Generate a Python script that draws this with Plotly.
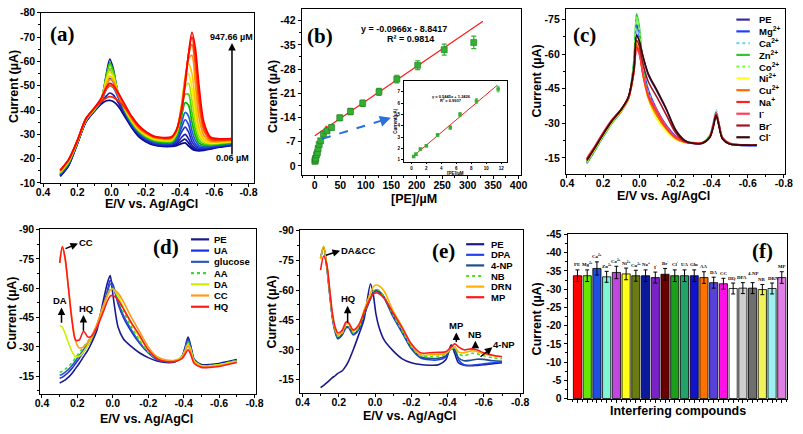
import plotly.graph_objects as go

W, H = 803, 434
SANS = "Liberation Sans, Arial, sans-serif"
SERIF = "Liberation Serif, Times New Roman, serif"

# ======================= DATA =======================
# ---- (a) DPV curves at increasing PE concentration (0.06 -> 947.66 uM)
E_a = [0.30, 0.25, 0.20, 0.15, 0.10, 0.06, 0.03, 0.01, -0.01, -0.04, -0.08, -0.12, -0.16, -0.20,
       -0.25, -0.30, -0.35, -0.38, -0.41, -0.43, -0.45, -0.47, -0.49, -0.51, -0.54, -0.58, -0.63, -0.70]
a_c01 = [-12.7, -17.2, -26.0, -35.0, -39.5, -42.5, -43.8, -44.0, -43.5, -41.5, -37.0, -32.5, -29.0, -27.0, -25.5, -25.0, -25.0, -25.3, -26.2, -26.5, -25.2, -24.0, -23.4, -23.2, -23.4, -24.0, -24.7, -25.4]
a_c02 = [-12.9, -17.4, -26.2, -35.2, -39.6, -44.0, -55.0, -61.0, -57.0, -46.0, -38.0, -33.0, -29.5, -27.3, -25.8, -25.3, -25.3, -25.8, -27.3, -28.0, -26.5, -24.5, -23.7, -23.5, -23.7, -24.2, -24.9, -25.6]
a_c03 = [-13.1, -17.6, -26.3, -35.3, -39.7, -43.0, -45.8, -47.0, -46.2, -43.0, -38.0, -33.3, -29.8, -27.6, -26.0, -25.5, -25.6, -26.3, -28.8, -30.0, -28.2, -25.5, -24.2, -23.8, -23.9, -24.4, -25.0, -25.7]
a_c04 = [-13.3, -17.8, -26.4, -35.4, -39.8, -43.8, -52.5, -57.0, -54.0, -45.5, -38.5, -33.5, -30.0, -27.9, -26.3, -25.8, -25.9, -27.0, -31.0, -33.0, -31.0, -27.0, -25.0, -24.3, -24.3, -24.7, -25.2, -25.9]
a_c05 = [-13.5, -18.0, -26.5, -35.5, -39.9, -43.8, -50.0, -53.0, -51.5, -45.5, -39.0, -34.0, -30.4, -28.2, -26.6, -26.1, -26.2, -27.8, -33.0, -36.0, -34.0, -29.0, -26.0, -24.8, -24.6, -24.9, -25.4, -26.0]
a_c06 = [-13.7, -18.2, -26.6, -35.6, -40.0, -43.5, -48.5, -50.0, -49.2, -45.0, -39.0, -34.3, -30.7, -28.5, -26.9, -26.4, -26.5, -28.5, -35.0, -39.0, -37.5, -31.5, -27.5, -25.5, -25.0, -25.2, -25.6, -26.2]
a_c07 = [-13.9, -18.4, -26.7, -35.7, -40.1, -44.2, -54.0, -59.5, -56.0, -46.5, -39.5, -34.6, -31.0, -28.8, -27.2, -26.7, -26.8, -29.3, -37.5, -43.0, -42.0, -35.0, -29.5, -26.5, -25.5, -25.5, -25.9, -26.4]
a_c08 = [-14.1, -18.6, -26.8, -35.8, -40.2, -44.3, -53.8, -59.0, -55.7, -46.5, -39.8, -34.9, -31.3, -29.1, -27.5, -27.0, -27.1, -30.0, -39.5, -46.5, -46.5, -39.0, -32.0, -27.8, -26.0, -25.8, -26.2, -26.7]
a_c09 = [-14.3, -18.8, -26.9, -35.9, -40.3, -44.4, -53.0, -57.0, -54.5, -46.5, -40.0, -35.2, -31.6, -29.4, -27.8, -27.3, -27.4, -30.5, -41.0, -49.5, -51.0, -44.0, -35.0, -29.5, -26.7, -26.1, -26.4, -26.9]
a_c10 = [-14.5, -19.0, -27.0, -36.0, -40.4, -44.5, -52.2, -55.5, -53.5, -46.5, -40.3, -35.5, -31.9, -29.7, -28.1, -27.6, -27.7, -31.0, -42.0, -52.0, -55.0, -49.0, -38.5, -31.0, -27.3, -26.4, -26.6, -27.1]
a_c11 = [-14.7, -19.2, -27.1, -36.1, -40.5, -44.6, -51.3, -54.0, -52.6, -46.5, -40.6, -35.8, -32.2, -30.0, -28.4, -27.9, -28.0, -31.3, -42.5, -53.5, -59.0, -55.0, -43.0, -33.0, -28.0, -26.8, -26.9, -27.3]
a_c12 = [-14.9, -19.4, -27.2, -36.2, -40.6, -44.6, -50.2, -52.5, -51.8, -46.4, -40.9, -36.1, -32.5, -30.3, -28.6, -28.1, -28.3, -31.5, -42.0, -53.0, -61.0, -62.5, -51.0, -37.5, -29.5, -27.2, -27.2, -27.5]
a_c13 = [-15.0, -19.5, -27.3, -36.3, -40.7, -44.4, -48.7, -50.0, -49.6, -46.0, -41.2, -36.4, -32.8, -30.6, -28.8, -28.3, -28.5, -31.6, -41.0, -51.5, -62.5, -67.0, -58.0, -43.0, -31.5, -27.7, -27.5, -27.7]
a_c14 = [-15.1, -19.6, -27.4, -36.4, -40.8, -43.5, -45.0, -45.5, -45.2, -43.8, -40.8, -36.8, -33.2, -30.9, -29.0, -28.5, -28.7, -31.8, -40.5, -51.0, -63.0, -70.0, -62.0, -47.0, -33.0, -28.2, -27.8, -27.9]
a_c15 = [-15.3, -19.8, -27.5, -36.5, -40.9, -45.0, -49.3, -51.0, -50.2, -47.0, -42.0, -37.2, -33.6, -31.2, -29.2, -28.7, -29.0, -32.0, -40.0, -50.5, -63.0, -72.0, -65.5, -51.0, -35.0, -28.8, -28.2, -28.3]

# ---- (b) calibration
b_conc = [0.3, 0.6, 1.2, 2.0, 3.5, 5.2, 6.5, 8.7, 11.6, 17, 24, 33, 49, 70, 94, 126, 161, 202, 254, 312]
b_curr = [-1.3, -1.5, -1.95, -2.25, -3.2, -3.85, -5.0, -6.2, -7.25, -9.2, -10.1, -11.1, -13.9, -15.7,
          -18.1, -21.4, -25.1, -29.1, -33.6, -35.7]
b_err = [0.3, 0.3, 0.3, 0.3, 0.4, 0.4, 0.5, 0.5, 0.6, 0.6, 0.7, 0.7, 0.8, 0.9, 0.9, 1.0, 1.1, 1.3, 1.6, 1.8]
b_fit_high_x = [0, 330]
b_fit_high_y = [-8.7, -41.8]
b_fit_low_x = [0.3, 23]
b_fit_low_y = [-1.0, -11.6]
b_arrow_x = [14.3, 149.3]
b_arrow_y = [-7.8, -13.9]
inset_conc = [0.3, 0.6, 1.2, 2.0, 3.5, 5.2, 6.5, 8.7, 11.6]
inset_curr = [1.3, 1.5, 1.95, 2.25, 3.2, 3.85, 5.0, 6.2, 7.25]
inset_err = [0.08, 0.1, 0.1, 0.1, 0.12, 0.15, 0.18, 0.2, 0.25]
inset_fit_x = [0.1, 11.5]
inset_fit_y = [1.25, 7.6]

# ---- (c) metal ions / anions
E_c = [0.29, 0.25, 0.20, 0.15, 0.10, 0.06, 0.03, 0.015, 0.0, -0.02, -0.05, -0.10, -0.15, -0.20,
       -0.25, -0.30, -0.35, -0.39, -0.41, -0.425, -0.44, -0.46, -0.50, -0.55, -0.60, -0.65]
c_PE = [-13.0, -18.0, -24.5, -30.5, -35.5, -41.0, -53.0, -68.5, -66.0, -59.0, -51.0, -43.5, -35.8, -27.0, -22.5, -21.2, -21.3, -24.0, -29.0, -34.0, -29.5, -23.5, -21.0, -20.5, -20.4, -20.4]
c_Mg = [-12.6, -17.6, -24.2, -30.2, -35.2, -41.0, -56.0, -73.0, -68.0, -55.0, -44.5, -35.5, -29.0, -24.5, -22.0, -21.3, -21.4, -24.5, -30.0, -35.0, -30.0, -23.5, -21.0, -20.5, -20.3, -20.3]
c_Ca = [-12.5, -17.5, -24.0, -30.0, -35.0, -40.8, -55.0, -71.0, -67.0, -54.0, -43.5, -35.0, -28.5, -24.0, -22.0, -21.4, -21.5, -25.0, -30.8, -35.8, -30.5, -24.0, -21.2, -20.6, -20.4, -20.4]
c_Zn = [-13.0, -17.8, -24.3, -30.2, -35.0, -40.5, -57.0, -77.5, -72.0, -55.0, -42.0, -33.0, -27.5, -23.5, -22.0, -21.6, -21.7, -24.5, -29.5, -34.5, -30.0, -23.8, -21.2, -20.6, -20.5, -20.5]
c_Co = [-13.3, -18.0, -24.5, -30.4, -35.2, -40.6, -56.5, -76.0, -71.0, -54.0, -41.5, -32.8, -27.3, -23.3, -21.8, -21.5, -21.6, -24.3, -29.3, -34.2, -29.8, -23.6, -21.1, -20.6, -20.5, -20.5]
c_Ni = [-13.6, -18.3, -24.8, -30.7, -35.4, -40.5, -52.5, -65.0, -62.0, -51.0, -40.5, -31.5, -26.5, -23.0, -21.6, -21.4, -21.6, -24.0, -29.0, -33.5, -29.5, -23.5, -21.0, -20.6, -20.5, -20.5]
c_Cu = [-14.0, -18.7, -25.2, -31.0, -35.6, -40.6, -52.3, -64.0, -61.0, -51.0, -41.0, -33.0, -27.5, -23.5, -21.8, -21.4, -21.5, -24.0, -29.0, -33.8, -29.5, -23.5, -21.0, -20.6, -20.5, -20.5]
c_Na = [-14.5, -19.2, -25.6, -31.4, -35.9, -40.8, -52.0, -63.0, -60.5, -51.5, -42.0, -34.5, -28.0, -24.0, -22.0, -21.4, -21.5, -24.2, -29.5, -34.0, -29.8, -23.6, -21.2, -20.7, -20.6, -20.6]
c_I = [-15.0, -19.6, -26.0, -31.7, -36.2, -41.0, -52.0, -62.0, -60.0, -51.5, -42.5, -35.3, -28.5, -24.2, -22.0, -21.4, -21.5, -24.2, -29.5, -34.5, -30.0, -23.8, -21.3, -20.8, -20.7, -20.7]
c_Br = [-14.3, -19.0, -25.5, -31.3, -36.0, -41.5, -53.5, -66.0, -63.5, -56.0, -48.0, -41.0, -33.5, -26.0, -22.2, -21.2, -21.3, -24.0, -29.0, -33.8, -29.3, -23.4, -21.0, -20.6, -20.5, -20.5]
c_Cl = [-13.8, -18.8, -25.2, -31.2, -36.0, -41.5, -53.5, -68.0, -65.8, -59.2, -51.5, -44.0, -36.2, -27.3, -22.7, -21.3, -21.4, -23.8, -28.5, -33.5, -29.0, -23.2, -21.0, -20.6, -20.5, -20.5]
c_labels = ["PE", "Mg<sup>2+</sup>", "Ca<sup>2+</sup>", "Zn<sup>2+</sup>", "Co<sup>2+</sup>", "Ni<sup>2+</sup>",
            "Cu<sup>2+</sup>", "Na<sup>+</sup>", "I<sup>-</sup>", "Br<sup>-</sup>", "Cl<sup>-</sup>"]

# ---- (d) biomolecules
E_d = [0.30, 0.285, 0.27, 0.25, 0.23, 0.21, 0.19, 0.165, 0.14, 0.12, 0.09, 0.06, 0.03, 0.015, 0.0, -0.03, -0.06,
       -0.10, -0.15, -0.20, -0.25, -0.30, -0.35, -0.39, -0.41, -0.425, -0.44, -0.46, -0.50, -0.55, -0.60, -0.65, -0.70]
d_PE = [-11.5, -12.2, -13.0, -14.5, -16.5, -19.0, -21.5, -25.0, -28.5, -32.0, -38.5, -51.0, -63.0, -66.5, -57.0, -40.0, -34.0, -30.5, -27.0, -24.5, -22.8, -22.0, -22.3, -25.0, -30.5, -35.0, -30.5, -23.5, -21.0, -21.0, -21.5, -22.5, -23.5]
d_UA = [-14.0, -14.5, -15.5, -17.0, -19.0, -21.5, -24.0, -27.5, -31.0, -34.0, -40.0, -49.0, -59.0, -64.0, -62.0, -52.0, -45.0, -38.5, -32.0, -27.0, -23.5, -22.5, -22.5, -25.0, -30.0, -34.0, -30.0, -23.3, -20.5, -20.5, -21.0, -22.0, -23.0]
d_glucose = [-15.5, -16.0, -17.0, -18.5, -20.5, -23.0, -25.5, -28.5, -32.0, -35.0, -41.0, -49.5, -58.0, -62.0, -61.0, -53.0, -46.0, -39.5, -32.5, -27.0, -23.5, -22.5, -22.5, -24.8, -29.5, -33.5, -29.5, -23.0, -20.3, -20.3, -20.8, -21.8, -22.8]
d_AA = [-17.0, -17.5, -18.5, -20.0, -22.0, -24.5, -27.0, -30.0, -33.0, -35.5, -41.0, -49.0, -56.5, -59.5, -60.0, -55.0, -48.0, -41.0, -33.5, -27.5, -24.0, -23.0, -23.0, -25.0, -29.0, -32.5, -29.0, -23.0, -20.5, -20.5, -21.0, -22.0, -23.0]
d_DA = [-41.0, -40.0, -37.0, -32.0, -27.5, -25.0, -25.2, -27.5, -31.0, -34.5, -40.5, -48.5, -56.5, -59.0, -59.5, -56.0, -50.0, -43.0, -35.0, -28.5, -24.5, -23.2, -23.2, -25.0, -28.5, -31.5, -28.5, -22.8, -20.3, -20.3, -20.8, -21.8, -22.8]
d_CC = [-73.0, -81.0, -75.0, -60.0, -44.0, -33.0, -29.5, -30.0, -32.5, -35.5, -41.5, -49.5, -56.5, -59.0, -59.5, -57.5, -53.0, -46.0, -38.0, -30.0, -25.0, -23.3, -23.0, -24.5, -28.0, -30.5, -27.5, -22.0, -19.8, -19.8, -20.3, -21.3, -22.3]
d_HQ = [-73.0, -81.3, -76.0, -59.5, -43.0, -33.5, -33.5, -38.0, -35.0, -35.5, -40.0, -46.5, -53.5, -56.0, -56.3, -54.0, -49.5, -43.0, -36.0, -28.5, -24.0, -22.5, -22.5, -24.0, -26.5, -28.5, -26.0, -21.5, -19.5, -19.5, -20.0, -21.0, -22.0]
d_labels = ["PE", "UA", "glucose", "AA", "DA", "CC", "HQ"]

# ---- (e) phenolic / nitro compounds
E_e = [0.30, 0.283, 0.265, 0.25, 0.235, 0.22, 0.205, 0.18, 0.16, 0.145, 0.12, 0.09, 0.06, 0.025, 0.01, -0.005,
       -0.02, -0.05, -0.10, -0.15, -0.20, -0.25, -0.30, -0.35, -0.39, -0.42, -0.44, -0.46, -0.49, -0.53, -0.56,
       -0.60, -0.65, -0.70]
e_PE = [-11.0, -12.2, -13.5, -14.8, -16.0, -17.0, -18.2, -19.5, -22.0, -24.5, -30.0, -37.5, -45.5, -63.0, -58.0, -48.0, -42.0, -35.0, -29.5, -25.5, -23.5, -22.6, -22.3, -22.5, -25.0, -32.5, -28.0, -23.5, -22.3, -22.0, -22.2, -22.5, -23.0, -23.5]
e_DPA = [-76.0, -81.5, -71.0, -58.0, -46.0, -39.0, -35.5, -37.5, -41.0, -41.0, -37.5, -40.0, -47.5, -55.5, -58.5, -59.5, -59.0, -56.0, -46.5, -38.5, -30.5, -26.0, -25.0, -25.0, -26.5, -31.0, -30.0, -25.0, -22.5, -22.3, -22.5, -23.0, -23.5, -24.0]
e_4NP = [-76.0, -81.5, -71.0, -58.5, -46.5, -39.5, -36.0, -38.0, -41.5, -41.5, -38.0, -40.5, -48.0, -56.0, -59.0, -60.0, -59.5, -56.5, -47.0, -39.0, -31.0, -26.5, -25.7, -25.8, -27.0, -30.5, -30.0, -26.0, -24.5, -24.8, -25.3, -25.2, -24.5, -24.3]
e_NB = [-76.0, -81.8, -71.5, -59.0, -47.0, -40.0, -36.8, -38.5, -42.0, -42.0, -38.5, -41.0, -48.5, -56.5, -59.5, -60.5, -60.0, -57.0, -47.5, -39.5, -31.5, -27.0, -26.6, -26.8, -27.8, -30.5, -31.0, -28.0, -27.0, -28.3, -28.0, -27.0, -26.0, -25.5]
e_DRN = [-75.5, -82.0, -72.0, -59.5, -47.5, -40.5, -37.5, -39.0, -43.0, -43.0, -39.5, -42.0, -50.0, -58.5, -61.5, -62.5, -62.3, -59.5, -49.5, -41.5, -32.5, -27.5, -27.5, -27.6, -28.3, -30.8, -31.5, -29.0, -28.5, -29.5, -29.2, -28.0, -27.0, -26.5]
e_MP = [-70.0, -77.0, -72.5, -60.5, -48.5, -41.5, -38.5, -40.0, -44.0, -43.5, -40.0, -42.5, -49.0, -56.0, -58.0, -58.6, -58.3, -56.0, -48.5, -41.0, -33.0, -28.5, -28.5, -28.7, -29.0, -31.5, -33.0, -31.5, -30.0, -30.5, -30.0, -28.5, -27.3, -26.5]
e_labels = ["PE", "DPA", "4-NP", "NB", "DRN", "MP"]

# ---- (f) interference bar chart
f_labels = ["PE", "Mg<sup>2+</sup>", "Ca<sup>2+</sup>", "Zn<sup>2+</sup>", "Co<sup>2+</sup>", "Ni<sup>2+</sup>",
            "Cu<sup>2+</sup>", "Na<sup>+</sup>", "I<sup>-</sup>", "Br<sup>-</sup>", "Cl<sup>-</sup>", "UA", "Glu",
            "AA", "DA", "CC", "HQ", "DPA", "4-NP", "NB", "DRN", "MP"]
f_vals = [-33.7, -33.7, -35.7, -33.4, -34.6, -34.2, -33.7, -33.7, -33.2, -34.1, -33.7, -33.7, -33.7, -33.2,
          -31.8, -31.5, -30.2, -30.3, -30.3, -29.9, -30.2, -33.2]
f_err = [1.6, 1.6, 1.8, 1.5, 1.7, 1.6, 1.5, 1.6, 1.5, 1.6, 1.6, 1.6, 1.6, 1.6, 1.5, 1.5, 1.5, 1.5, 1.5, 1.4, 1.5, 1.6]

# tick labels
pot_ticks = [0.4, 0.2, 0.0, -0.2, -0.4, -0.6, -0.8]
pot_text = ["0.4", "0.2", "0.0", "-0.2", "-0.4", "-0.6", "-0.8"]
a_yticks = [-80, -70, -60, -50, -40, -30, -20, -10]
b_yticks = [0, -7, -14, -21, -28, -35, -42]
b_xticks = [0, 50, 100, 150, 200, 250, 300, 350, 400]
c_yticks = [-15, -30, -45, -60, -75]
de_yticks = [-15, -30, -45, -60, -75, -90]
f_yticks = [0, -5, -10, -15, -20, -25, -30, -35, -40, -45]
inset_xticks = [0, 2, 4, 6, 8, 10, 12]
inset_yticks = [1, 2, 3, 4, 5, 6, 7]

# ======================= STYLES =======================
a_curves = [a_c01, a_c02, a_c03, a_c04, a_c05, a_c06, a_c07, a_c08, a_c09, a_c10, a_c11, a_c12, a_c13, a_c14, a_c15]
a_colors = ['#0a0a80', '#1010a0', '#1a1ab4', '#1e30c8', '#2040d8', '#2a5ae0', '#00b400', '#44d400', '#aee000',
            '#f2ee00', '#ffc400', '#ff9000', '#ff5a00', '#ff2800', '#ff0000']
c_curves = [c_PE, c_Mg, c_Ca, c_Zn, c_Co, c_Ni, c_Cu, c_Na, c_I, c_Br, c_Cl]
c_colors = ['#3a2c9a', '#1f3fff', '#7fd3e6', '#2ec82e', '#7cff3c', '#ffff1a', '#ff6a00', '#ff2020', '#ff3c5a',
            '#a0141e', '#3a0808']
c_dash = ['solid', 'solid', 'dot', 'solid', 'dot', 'solid', 'solid', 'solid', 'solid', 'solid', 'solid']
d_curves = [d_PE, d_UA, d_glucose, d_AA, d_DA, d_CC, d_HQ]
d_colors = ['#1a1a8c', '#1c2ee0', '#3355bb', '#33dd33', '#ccf000', '#ff9a1a', '#ff1a1a']
d_dash = ['solid', 'solid', 'solid', 'dot', 'solid', 'solid', 'solid']
e_curves = [e_PE, e_DPA, e_4NP, e_NB, e_DRN, e_MP]
e_colors = ['#1a1a8c', '#2244ee', '#1f4f8f', '#55dd22', '#ffb000', '#ff1a1a']
e_dash = ['solid', 'solid', 'solid', 'dot', 'solid', 'solid']
f_colors = ['#ff0000', '#66e600', '#1e4fe0', '#7ff5d6', '#c048e0', '#ffff1a', '#6b7d12', '#0a1a9a', '#7a22c8',
            '#6a0000', '#1ca01c', '#22a36a', '#1212cc', '#ff7200', '#5840d8', '#ff10e6', '#ffffff', '#cfcfcf',
            '#6f6f6f', '#f2f25a', '#9ef0f0', '#e080e6']
# small label nudges (px) for crowded bar labels in (f)
f_label_dx = [0, 0, 0, 0, 0, 0, 0, 0, 0, 0, 0, 0, 0, 0, 0, 0, -1, -1, 0, -1, 1, 0]
f_label_dy = [0, 0, 0, 0, 0, 0, 0, 0, 0, 0, 0, 0, 0, 0, 0, 0, 0, 0, 4, 0, 0, 0]

for arr in a_curves:
    assert len(arr) == len(E_a)
for arr in c_curves:
    assert len(arr) == len(E_c)
for arr in d_curves:
    assert len(arr) == len(E_d)
for arr in e_curves:
    assert len(arr) == len(E_e)

# ======================= FIGURE =======================
fig = go.Figure()


def curve(x, y, color, ax, dash='solid', width=1.6):
    fig.add_trace(go.Scatter(x=x, y=y, mode='lines', showlegend=False, hoverinfo='skip',
                             line=dict(color=color, width=width, dash=dash, shape='spline', smoothing=0.8),
                             xaxis='x' + ax, yaxis='y' + ax))


for y, col in zip(a_curves, a_colors):
    curve(E_a, y, col, '', width=1.7)
for y, col, ds in zip(c_curves, c_colors, c_dash):
    curve(E_c, y, col, '3', ds)
for y, col, ds in zip(d_curves, d_colors, d_dash):
    curve(E_d, y, col, '4', ds)
for y, col, ds in zip(e_curves, e_colors, e_dash):
    curve(E_e, y, col, '5', ds)

# (b)
fig.add_trace(go.Scatter(x=b_fit_high_x, y=b_fit_high_y, mode='lines', line=dict(color='#ff1a1a', width=1.2),
                         xaxis='x2', yaxis='y2', showlegend=False, hoverinfo='skip'))
fig.add_trace(go.Scatter(x=b_fit_low_x, y=b_fit_low_y, mode='lines', line=dict(color='#ff1a1a', width=1.6),
                         xaxis='x2', yaxis='y2', showlegend=False, hoverinfo='skip'))
fig.add_trace(go.Scatter(x=b_conc, y=b_curr, mode='markers', xaxis='x2', yaxis='y2', showlegend=False,
                         marker=dict(symbol='square', size=6, color='#33b033', line=dict(color='#1f7a1f', width=0.6)),
                         error_y=dict(type='data', array=b_err, color='#33b033', thickness=1.2, width=2.5)))
fig.add_trace(go.Scatter(x=b_arrow_x, y=b_arrow_y, mode='lines', xaxis='x2', yaxis='y2', showlegend=False,
                         line=dict(color='#2a6fdb', width=2, dash='dash'), hoverinfo='skip'))
# inset
fig.add_trace(go.Scatter(x=inset_fit_x, y=inset_fit_y, mode='lines', line=dict(color='#ff1a1a', width=1),
                         xaxis='x7', yaxis='y7', showlegend=False, hoverinfo='skip'))
fig.add_trace(go.Scatter(x=inset_conc, y=inset_curr, mode='markers', xaxis='x7', yaxis='y7', showlegend=False,
                         marker=dict(symbol='square', size=3.5, color='#33b033'),
                         error_y=dict(type='data', array=inset_err, color='#33b033', thickness=0.8, width=1.5)))

# (f)
fig.add_trace(go.Bar(x=list(range(len(f_vals))), y=f_vals, width=0.84, xaxis='x6', yaxis='y6', showlegend=False,
                     marker=dict(color=f_colors, line=dict(color='black', width=0.8)),
                     error_y=dict(type='data', array=f_err, color='black', thickness=1, width=2)))


# ======================= AXES =======================
def px_dom(x0, x1, y0, y1):
    return [x0 / W, x1 / W], [1 - y1 / H, 1 - y0 / H]


def axis(dom, rng, anchor, tickvals, ticktext=None, minor=None, size=10.5, lw=1.3, tl=3, labels=True,
         standoff=None):
    d = dict(domain=dom, range=rng, anchor=anchor, showline=True, linecolor='black', linewidth=lw, mirror=True,
             ticks='outside', ticklen=tl, tickwidth=1.1, tickcolor='black', showgrid=False, zeroline=False,
             tickmode='array', tickvals=tickvals,
             ticktext=ticktext if ticktext is not None else [str(v) for v in tickvals],
             showticklabels=labels,
             tickfont=dict(family=SANS, size=size, color='black', weight='bold'))
    if standoff is not None:
        d['ticklabelstandoff'] = standoff
    if minor is not None:
        d['minor'] = dict(ticks='outside', ticklen=max(tl * 0.6, 1.5), tickwidth=1, tickcolor='black',
                          dtick=minor[0], tick0=minor[1], showgrid=False)
    return d


boxes = {
    '': (36, 252.3, 7, 182),
    '2': (301, 524.3, 3.3, 174),
    '3': (570, 793, 3, 173),
    '4': (35, 254, 229, 399),
    '5': (299.3, 525.7, 230, 398.3),
    '6': (571.7, 795, 234.3, 404.3),
    '7': (405, 510, 76.7, 160),
}
xranges = {'': [0.41, -0.832], '2': [-25.6, 405], '3': [0.405, -0.807], '4': [0.409, -0.806],
           '5': [0.413, -0.813], '6': [-1.0, 21.55], '7': [-1.0, 12.8]}
yranges = {'': [-10, -80], '2': [2.7, -45.3], '3': [-7.9, -79.6], '4': [-5.9, -90.5],
           '5': [-8.2, -90.3], '6': [0.16, -45.2], '7': [0.85, 8.0]}

lay = {}
for k in ['', '2', '3', '4', '5', '6', '7']:
    xd, yd = px_dom(*boxes[k])
    xn, yn = 'xaxis' + k, 'yaxis' + k
    if k in ['', '3', '4', '5']:
        lay[xn] = axis(xd, xranges[k], 'y' + k, pot_ticks, pot_text, minor=(0.1, 0), standoff=-4)
    elif k == '2':
        lay[xn] = axis(xd, xranges[k], 'y2', b_xticks, minor=(25, 0), standoff=-3)
    elif k == '6':
        lay[xn] = axis(xd, xranges[k], 'y6', list(range(len(f_vals))), labels=False, minor=(1, 0.5))
    else:
        lay[xn] = axis(xd, xranges[k], 'y7', inset_xticks, size=4.5, lw=0.8, tl=2)
    yt = {'': (a_yticks, 5), '2': (b_yticks, 3.5), '3': (c_yticks, 7.5), '4': (de_yticks, 7.5),
          '5': (de_yticks, 7.5), '6': (f_yticks, 2.5), '7': (inset_yticks, None)}[k]
    if k == '7':
        lay[yn] = axis(yd, yranges[k], 'x7', yt[0], size=4.5, lw=0.8, tl=2)
    else:
        lay[yn] = axis(yd, yranges[k], 'x' + k, yt[0], [str(v) for v in yt[0]], minor=(yt[1], 0))

# ======================= ANNOTATIONS =======================
ann = []
shapes = []


def T(x, y, text, size=10, bold=True, family=SANS, xanchor='center', angle=0, color='black'):
    ann.append(dict(x=x / W, y=1 - y / H, xref='paper', yref='paper', text=('<b>%s</b>' % text) if bold else text,
                    showarrow=False, font=dict(family=family, size=size, color=color), xanchor=xanchor,
                    yanchor='middle', textangle=angle))


def ARROW(x0, y0, x1, y1, color='black', width=1.5):
    ann.append(dict(x=x1 / W, y=1 - y1 / H, xref='paper', yref='paper', ax=x0 - x1, ay=y0 - y1,
                    text='', showarrow=True, arrowhead=2, arrowsize=1, arrowwidth=width, arrowcolor=color,
                    standoff=0, startstandoff=0))


def LEG(names, colors, dashes, xl0, xl1, xt, y0, dy, size=9.5):
    for i, (nm, col, ds) in enumerate(zip(names, colors, dashes)):
        y = y0 + dy * i
        shapes.append(dict(type='line', xref='paper', yref='paper', x0=xl0 / W, x1=xl1 / W, y0=1 - y / H,
                           y1=1 - y / H, line=dict(color=col, width=2.2, dash=ds)))
        T(xt, y, nm, size=size, xanchor='left')


# panel letters
for lbl, x, y in [('(a)', 58, 29), ('(b)', 320, 30.7), ('(c)', 588.3, 30), ('(d)', 163.3, 248.3),
                  ('(e)', 445, 251.7), ('(f)', 770, 251.7)]:
    T(x, y, lbl, size=21, family=SERIF)

# axis titles
TS = 12.5
for x, y in [(148, 204), (669, 195), (142.5, 424.5), (411, 421.5)]:
    T(x, y, 'E/V vs. Ag/AgCl', size=TS)
T(415, 198, '[PE]/µM', size=TS)
T(684, 417, 'Interfering compounds', size=TS)
for x, y in [(7.5, 83), (271.7, 92.5), (540, 77), (6.5, 316), (271, 315), (540, 321.7)]:
    T(x, y, 'Current (µA)', size=TS, angle=-90)

# (a)
ARROW(230, 151, 230, 38, width=1.5)
T(229, 32.3, '947.66 µM', size=9)
T(231, 156, '0.06 µM', size=9)

# (b)
T(405, 24, 'y = -0.0966x - 8.8417', size=9)
T(411.7, 34.3, 'R² = 0.9814', size=9)
ann.append(dict(x=b_arrow_x[1], y=b_arrow_y[1], xref='x2', yref='y2', ax=-9, ay=3, text='', showarrow=True,
                arrowhead=2, arrowsize=1.1, arrowwidth=2, arrowcolor='#2a6fdb', standoff=0))
T(453, 92.7, 'y = 0.5445x + 1.2426', size=4)
T(453, 97.2, 'R² = 0.9937', size=4)
T(397, 118, 'Current(µA)', size=4.5, angle=-90)
T(457.5, 172.5, '[PE]/µM', size=4.5)

# (c) legend
LEG(c_labels, c_colors, c_dash, 743.3, 757, 764, 14, 12.1)

# (d)
LEG(d_labels, d_colors, d_dash, 188.3, 206.7, 209.3, 240, 11.55)
ARROW(59.3, 250, 73.3, 244.3)
T(81, 243.3, 'CC', size=9.5)
ARROW(56.5, 326.7, 56.5, 310)
T(55, 303.3, 'DA', size=9.5)
ARROW(78.8, 335, 78.8, 317.7)
T(81, 311.5, 'HQ', size=9.5)

# (e)
LEG(e_labels, e_colors, e_dash, 468.3, 486.7, 491.7, 245, 10.9)
ARROW(324.3, 256.7, 340, 251.7)
T(358.3, 251.7, 'DA&CC', size=9.5)
ARROW(347.7, 326.7, 347.7, 308.3)
T(348.3, 301, 'HQ', size=9.5)
ARROW(458.3, 346.7, 458.3, 335.7)
T(458.3, 328.3, 'MP', size=9.5)
ARROW(477.7, 351.7, 477.7, 344.3)
T(477.7, 338.3, 'NB', size=9.5)
ARROW(481.7, 361.7, 495, 351)
T(506.7, 348.3, '4-NP', size=9.5)

# (f) bar labels
for i, (lab, v, e) in enumerate(zip(f_labels, f_vals, f_err)):
    ann.append(dict(x=i, y=v - e, xref='x6', yref='y6', text='<b>%s</b>' % lab, showarrow=False, yanchor='bottom',
                    xanchor='center', yshift=0.5 + f_label_dy[i], xshift=f_label_dx[i],
                    font=dict(family=SERIF, size=4.8, color='black')))

fig.update_layout(width=W, height=H, margin=dict(l=0, r=0, t=0, b=0), paper_bgcolor='white',
                  plot_bgcolor='white', showlegend=False, annotations=ann, shapes=shapes, **lay)

fig.write_html("out.html", config={'displayModeBar': False},
               post_script="document.body.style.margin='0';document.body.style.overflow='hidden';")
